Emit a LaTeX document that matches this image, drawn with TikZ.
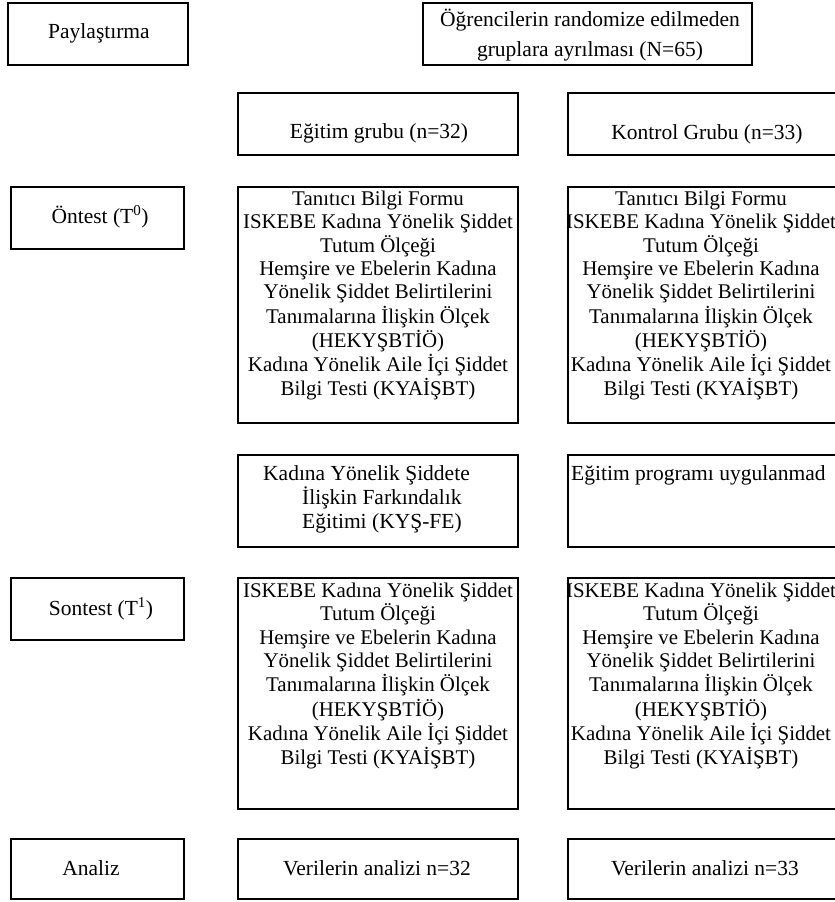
\documentclass[tikz,border=0pt]{standalone}
\usepackage{fontspec}
\setmainfont{Liberation Serif}
\setlength{\tabcolsep}{0pt}
\tikzset{
  box/.style={draw=black, line width=2.7pt, rectangle, inner sep=0pt},
  txt/.style={inner sep=0pt, anchor=base, font=\fontsize{20.9}{23.3}\selectfont},
}
\newcommand{\bx}[5]{\node[box, minimum width={#4-#2}, minimum height={#5-#3}] (#1) at ({(#2+#4)/2},{(#3+#5)/2}) {};}
\begin{document}
\begin{tikzpicture}[x=1pt, y=-1pt]
\useasboundingbox (0,0) rectangle (835,902);
\clip (0,0) rectangle (835,902);
% boxes
\bx{payl}{8}{3}{188}{65}
\bx{ogr}{423}{3}{752}{65}
\bx{egt}{238}{93}{518}{155}
\bx{kon}{568}{93}{848}{155}
\bx{onl}{11}{187}{184}{249}
\bx{onm}{238}{187}{518}{423}
\bx{onr}{568}{187}{848}{423}
\bx{kys}{238}{455}{518}{547}
\bx{prog}{568}{455}{848}{547}
\bx{sol}{11}{578}{184}{640}
\bx{som}{238}{578}{518}{809}
\bx{sor}{568}{578}{848}{809}
\bx{anl}{11}{839}{184}{899}
\bx{verm}{238}{839}{518}{899}
\bx{verr}{568}{839}{848}{899}
% texts
\node[txt, font=\fontsize{21.5}{29}\selectfont] (paylT) at (99,38) {Paylaştırma};
\node[txt, font=\fontsize{21.5}{29}\selectfont] (ogrT) at (590,27) {\begin{tabular}[t]{c}Öğrencilerin randomize edilmeden\\gruplara ayrılması (N=65)\end{tabular}};
\node[txt, font=\fontsize{21.5}{29}\selectfont] (egtT) at (379,138) {Eğitim grubu (n=32)};
\node[txt, font=\fontsize{21.5}{29}\selectfont] (konT) at (707,139) {Kontrol Grubu (n=33)};
\node[txt, font=\fontsize{21.5}{29}\selectfont] (onlT) at (100,223) {Öntest (T\textsuperscript{0})};
\node[txt] (onmT) at (378,205) {\begin{tabular}[t]{c}Tanıtıcı Bilgi Formu\\ISKEBE Kadına Yönelik Şiddet\\Tutum Ölçeği\\Hemşire ve Ebelerin Kadına\\Yönelik Şiddet Belirtilerini\\Tanımalarına İlişkin Ölçek\\(HEKYŞBTİÖ)\\Kadına Yönelik Aile İçi Şiddet\\Bilgi Testi (KYAİŞBT)\end{tabular}};
\node[txt] (onrT) at (701,205) {\begin{tabular}[t]{c}Tanıtıcı Bilgi Formu\\ISKEBE Kadına Yönelik Şiddet\\Tutum Ölçeği\\Hemşire ve Ebelerin Kadına\\Yönelik Şiddet Belirtilerini\\Tanımalarına İlişkin Ölçek\\(HEKYŞBTİÖ)\\Kadına Yönelik Aile İçi Şiddet\\Bilgi Testi (KYAİŞBT)\end{tabular}};
\node[txt, anchor=base west, font=\fontsize{21.5}{23.3}\selectfont] (kysT) at (263,480) {\begin{tabular}[t]{l}Kadına Yönelik Şiddete\\\hspace*{39pt}İlişkin Farkındalık\\\hspace*{39pt}Eğitimi (KYŞ-FE)\end{tabular}};
\node[txt, anchor=base west, font=\fontsize{21.5}{23.3}\selectfont] (progT) at (571,480) {Eğitim programı uygulanmad};
\node[txt, font=\fontsize{21.5}{29}\selectfont] (solT) at (101,615) {Sontest (T\textsuperscript{1})};
\node[txt] (somT) at (378,597) {\begin{tabular}[t]{c}ISKEBE Kadına Yönelik Şiddet\\Tutum Ölçeği\\Hemşire ve Ebelerin Kadına\\Yönelik Şiddet Belirtilerini\\Tanımalarına İlişkin Ölçek\\(HEKYŞBTİÖ)\\Kadına Yönelik Aile İçi Şiddet\\Bilgi Testi (KYAİŞBT)\end{tabular}};
\node[txt] (sorT) at (701,597) {\begin{tabular}[t]{c}ISKEBE Kadına Yönelik Şiddet\\Tutum Ölçeği\\Hemşire ve Ebelerin Kadına\\Yönelik Şiddet Belirtilerini\\Tanımalarına İlişkin Ölçek\\(HEKYŞBTİÖ)\\Kadına Yönelik Aile İçi Şiddet\\Bilgi Testi (KYAİŞBT)\end{tabular}};
\node[txt, font=\fontsize{21.5}{29}\selectfont] (anlT) at (91,875) {Analiz};
\node[txt, font=\fontsize{21.5}{29}\selectfont] (vermT) at (377,875) {Verilerin analizi n=32};
\node[txt, font=\fontsize{21.5}{29}\selectfont] (verrT) at (705,875) {Verilerin analizi n=33};
\end{tikzpicture}
\end{document}
